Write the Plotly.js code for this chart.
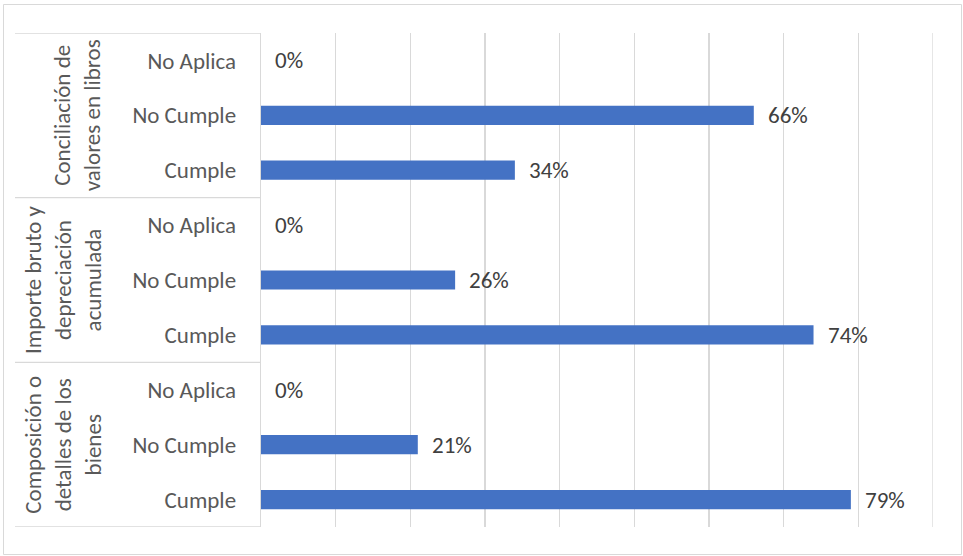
<!DOCTYPE html>
<html>
<head>
<meta charset="utf-8">
<script src="https://cdn.plot.ly/plotly-3.0.1.min.js"></script>
<style>
html,body{margin:0;padding:0;background:#fff;}
#chart{width:963px;height:556px;}
</style>
</head>
<body>
<div id="chart"></div>
<script>
// Data (bottom-to-top order, as in the source chart)
const groups = ["Composición o<br>detalles de los<br>bienes", "Importe bruto y<br>depreciación<br>acumulada", "Conciliación de<br>valores en libros"];
const subcategories = ["Cumple", "No Cumple", "No Aplica"];
const composicionValues = [0.79, 0.21, 0.00];
const importeValues = [0.74, 0.26, 0.00];
const conciliacionValues = [0.34, 0.66, 0.00];

const groupValues = [composicionValues, importeValues, conciliacionValues];

const FONT = "Calibri, Carlito, Lato, 'Open Sans', sans-serif";
const FS = 23;

const yIdx = [], xVals = [], tickText = [];
groupValues.forEach((vals, g) => {
  vals.forEach((v, s) => {
    yIdx.push(g * subcategories.length + s);
    xVals.push(v);
    tickText.push(subcategories[s]);
  });
});

const W = 963, H = 556;
const L = 261, R = 30, T = 33, B = 29;
const pw = W - L - R, ph = H - T - B;
const px2x = p => (p - L) / pw;
const px2y = p => (H - B - p) / ph;

const trace = {
  type: 'bar',
  orientation: 'h',
  x: xVals,
  y: yIdx,
  width: 0.35,
  marker: {color: '#4472c4'},
  hoverinfo: 'none'
};

const annotations = [];
xVals.forEach((v, i) => {
  annotations.push({
    x: v, y: yIdx[i], xref: 'x', yref: 'y',
    text: Math.round(v * 100) + '%',
    showarrow: false, xanchor: 'left', yanchor: 'middle', xshift: 12,
    font: {family: FONT, size: FS, color: '#404040'}
  });
});
const groupX = [63, 63, 77];
groups.forEach((gname, g) => {
  annotations.push({
    x: px2x(groupX[g]), y: g * subcategories.length + 1, xref: 'paper', yref: 'y',
    text: gname, textangle: -90, showarrow: false,
    xanchor: 'center', yanchor: 'middle', align: 'center',
    font: {family: FONT, size: FS, color: '#595959'}
  });
});

const shapes = [];
for (let g = 0; g <= groups.length; g++) {
  shapes.push({
    type: 'line', xref: 'paper', yref: 'y',
    x0: px2x(15), x1: 0, y0: g * subcategories.length - 0.5, y1: g * subcategories.length - 0.5,
    line: {color: '#d9d9d9', width: 1.3}
  });
}
shapes.push({
  type: 'line', xref: 'x', yref: 'paper',
  x0: 0.9, x1: 0.9, y0: 0, y1: 1,
  line: {color: '#d9d9d9', width: 1.3}
});
shapes.push({
  type: 'rect', xref: 'paper', yref: 'paper',
  x0: px2x(3.5), x1: px2x(961.5), y0: px2y(554.5), y1: px2y(4.5),
  line: {color: '#d9d9d9', width: 1}
});

const layout = {
  width: W, height: H,
  margin: {l: L, r: R, t: T, b: B, pad: 0},
  paper_bgcolor: '#ffffff', plot_bgcolor: '#ffffff',
  showlegend: false,
  xaxis: {
    range: [0, 0.9], dtick: 0.1, tick0: 0,
    showticklabels: false, showgrid: true, gridcolor: '#d9d9d9', gridwidth: 1.3,
    zeroline: false, showline: false, ticks: ''
  },
  yaxis: {
    range: [-0.5, yIdx.length - 0.5],
    tickmode: 'array', tickvals: yIdx, ticktext: tickText,
    tickfont: {family: FONT, size: FS, color: '#595959'},
    ticks: 'outside', ticklen: 19, tickcolor: 'rgba(0,0,0,0)',
    showgrid: false, zeroline: false,
    showline: true, linecolor: '#d9d9d9', linewidth: 1.3
  },
  annotations: annotations,
  shapes: shapes
};

Plotly.newPlot('chart', [trace], layout, {displayModeBar: false, staticPlot: true});
</script>
</body>
</html>
